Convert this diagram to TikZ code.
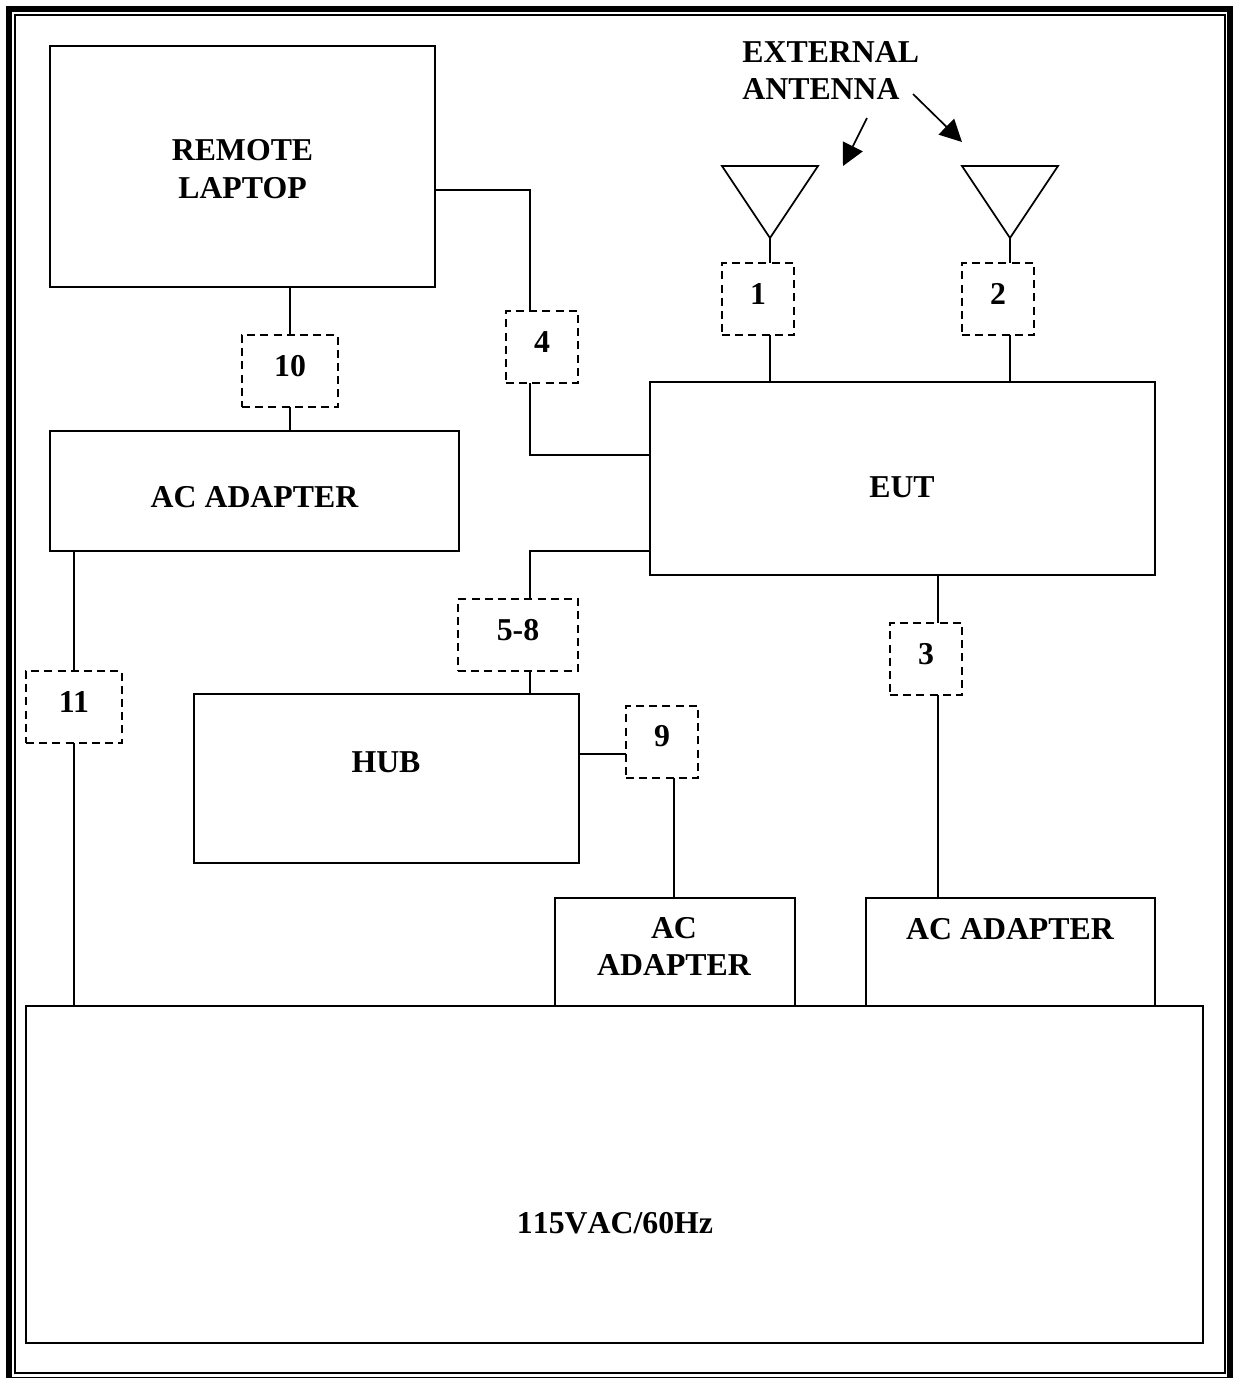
\documentclass[tikz,border=0pt]{standalone}
\usepackage{fontspec}
\setmainfont{Liberation Serif}
\usetikzlibrary{arrows.meta}

\begin{document}
\begin{tikzpicture}[
        x=0.5pt, y=-0.5pt,
        unit/.style={draw=black, line width=0.85pt, inner sep=0pt},
        port/.style={draw=black, line width=0.85pt, dash pattern=on 4pt off 2.6pt, fill=white, inner sep=0pt, minimum height=36pt},
        tag/.style={font=\fontsize{15.9}{18.75}\selectfont\bfseries, align=center, inner sep=0pt},
        cable/.style={line width=0.85pt},
        aerial/.style={draw=black, line width=0.85pt, line join=miter},
        pointer/.style={line width=0.85pt, -{Triangle[length=11pt, width=11pt]}}
        ]
        \useasboundingbox (0,0) rectangle (1233,1378);

        % Outer frame
        \draw[line width=3pt] (9,9) rectangle (1230,1380);
        \draw[line width=1pt] (14.5,14.5) rectangle (1224.5,1373);

        % Units
        \node[unit, minimum width=192.5pt, minimum height=120.5pt] (laptop) at (242.5,166.5) {};
        \node[unit, minimum width=204.5pt, minimum height=60pt] (adapterA) at (254.5,491) {};
        \node[unit, minimum width=252.5pt, minimum height=96.5pt] (eut) at (902.5,478.5) {};
        \node[unit, minimum width=192.5pt, minimum height=84.5pt] (hub) at (386.5,778.5) {};
        \node[unit, minimum width=120pt, minimum height=54pt] (adapterB) at (675,952) {};
        \node[unit, minimum width=144.5pt, minimum height=54pt] (adapterC) at (1010.5,952) {};
        \node[unit, minimum width=588.5pt, minimum height=168.5pt] (mains) at (614.5,1174.5) {};

        % Unit texts
        \node[tag] (laptoptext) at (242.5,169) {REMOTE\\LAPTOP};
        \node[tag] (adapterAtext) at (254.5,497) {AC ADAPTER};
        \node[tag] (euttext) at (902,487) {EUT};
        \node[tag] (hubtext) at (386,762) {HUB};
        \node[tag] (adapterBtext) at (674,946.5) {AC\\ADAPTER};
        \node[tag] (adapterCtext) at (1010,929) {AC ADAPTER};
        \node[tag] (mainstext) at (615,1223) {\addfontfeature{Kerning=Off}115VAC/60Hz};
        \node[tag, align=left, anchor=west] (aerialtext) at (742,70.5) {EXTERNAL\\ANTENNA};

        % Cable routes
        \coordinate (bendA) at (530,190);
        \coordinate (bendB) at (530,455);
        \coordinate (bendC) at (530,551);
        \coordinate (dropD) at (938,575);
        \coordinate (dropE) at (674,898);
        \coordinate (dropF) at (74,551);
        \coordinate (feedG) at (579,754);
        \coordinate (topA) at (770,238);
        \coordinate (topB) at (1010,238);

        % Antennas
        \draw[aerial] (722,166) -- (818,166) -- (topA) -- cycle;
        \draw[aerial] (962,166) -- (1058,166) -- (topB) -- cycle;

        % Cables
        \draw[cable] (topA) -- (770,382);
        \draw[cable] (topB) -- (1010,382);
        \draw[cable] (laptop.south -| 290,0) -- (adapterA.north -| 290,0);
        \draw[cable] (laptop.east |- bendA) -- (bendA) -- (bendB) -- (eut.west |- bendB);
        \draw[cable] (eut.west |- bendC) -- (bendC) -- (hub.north -| bendC);
        \draw[cable] (dropD) -- (adapterC.north -| dropD);
        \draw[cable] (feedG) -| (dropE);
        \draw[cable] (dropF) -- (mains.north -| dropF);

        % Dashed cable tags
        \foreach \name/\x/\y/\w/\up in {1/758/299/36/5, 2/998/299/36/5, 3/926/659/36/5, 4/542/347/36/5, 5-8/518/635/60/5, 9/662/742/36/6, 10/290/371/48/5, 11/74/707/48/5} {
            \node[port, minimum width=\w pt] (port\name) at (\x,\y) {};
            \node[tag] (label\name) at (\x,\y-\up) {\name};
        }

        % Pointers to the antennas
        \coordinate (tipA) at (843,166);
        \coordinate (tipB) at (962,142);
        \draw[pointer] (867,118) -- (tipA);
        \draw[pointer] (913,94) -- (tipB);

    \end{tikzpicture}
\end{document}
